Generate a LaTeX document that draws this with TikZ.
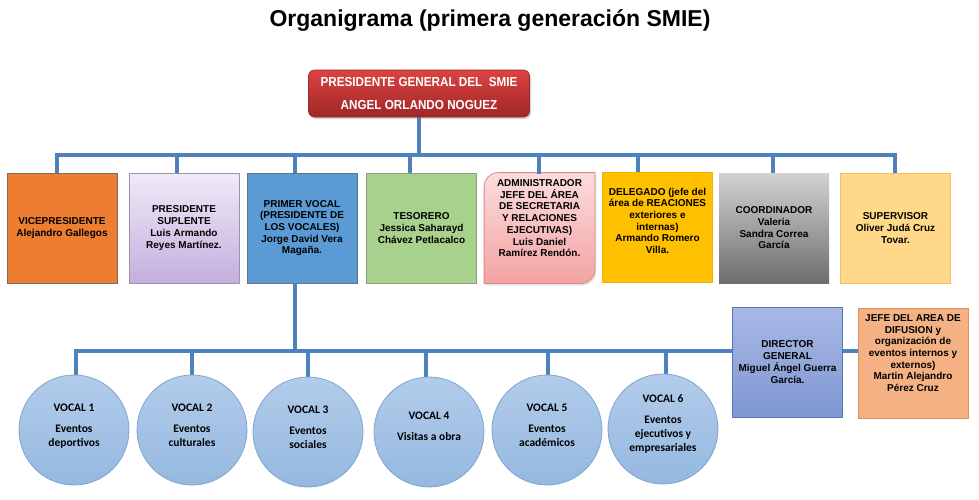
\documentclass[tikz,border=0pt]{standalone}
\usepackage{fontspec}
\setmainfont{Liberation Sans}
\newfontfamily\carlito{Carlito}
\newfontfamily\narrowsans[FakeStretch=0.9]{Liberation Sans}
\usetikzlibrary{shadows,backgrounds}
\definecolor{linec}{HTML}{4F81BD}
\definecolor{viceF}{HTML}{ED7D31}
\definecolor{viceD}{HTML}{7A6A60}
\definecolor{supT}{HTML}{F0EAF8}
\definecolor{supB}{HTML}{C4AEDE}
\definecolor{supD}{HTML}{9A94A8}
\definecolor{primF}{HTML}{5B9BD5}
\definecolor{primD}{HTML}{5F7488}
\definecolor{tesF}{HTML}{A9D18E}
\definecolor{tesD}{HTML}{8AA077}
\definecolor{admT}{HTML}{FCDCDC}
\definecolor{admB}{HTML}{F3A3A3}
\definecolor{admD}{HTML}{D98A8A}
\definecolor{delF}{HTML}{FFC000}
\definecolor{delD}{HTML}{F0B400}
\definecolor{corT}{HTML}{D2D2D2}
\definecolor{corB}{HTML}{6E6E6E}
\definecolor{supvF}{HTML}{FFD88A}
\definecolor{supvD}{HTML}{F2C060}
\definecolor{dirT}{HTML}{A7B8E4}
\definecolor{dirB}{HTML}{7F97D3}
\definecolor{dirD}{HTML}{5575BC}
\definecolor{jefF}{HTML}{F4B183}
\definecolor{jefD}{HTML}{E28D5C}
\definecolor{cirT}{HTML}{B2CCEA}
\definecolor{cirB}{HTML}{95B8E0}
\definecolor{cirD}{HTML}{7FA4D2}
\definecolor{presT}{HTML}{DA4442}
\definecolor{presB}{HTML}{A02627}
\tikzset{
  conn/.style={draw=linec, line width=3.5pt, line cap=rect},
  obox/.style={rectangle, line width=0.8pt, minimum width=110pt, minimum height=110pt,
    align=center, inner sep=2pt, font=\bfseries\fontsize{10}{11.7}\selectfont},
  vocal/.style={circle, draw=cirD, line width=0.8pt, top color=cirT, bottom color=cirB,
    minimum size=110pt, align=center, inner sep=0pt,
    font=\carlito\bfseries\fontsize{11.5}{14}\selectfont},
  presbox/.style={rectangle, rounded corners=6pt, draw=presB, line width=0.6pt,
    top color=presT, bottom color=presB, minimum width=221pt, minimum height=47pt,
    align=center, text=white, font=\narrowsans\bfseries\fontsize{13}{23}\selectfont,
    drop shadow={shadow xshift=1.5pt, shadow yshift=-2pt, opacity=0.35}},
  titlestyle/.style={font=\bfseries\fontsize{23}{26}\selectfont, inner sep=0pt}
}
\begin{document}
\begin{tikzpicture}[x=1pt,y=-1pt]
\useasboundingbox (0,0) rectangle (979,499);
\node[titlestyle] (title) at (490,20) {Organigrama (primera generación SMIE)};
\node[presbox] (pres) at (419,93.5) {PRESIDENTE GENERAL DEL\ \ SMIE\\ANGEL ORLANDO NOGUEZ};
% second row
\node[obox, draw=viceD, fill=viceF] (vice) at (62,228) {VICEPRESIDENTE\\Alejandro Gallegos};
\node[obox, draw=supD, top color=supT, bottom color=supB] (supl) at (184,228) {PRESIDENTE\\SUPLENTE\\Luis Armando\\Reyes Martínez.};
\node[obox, draw=primD, fill=primF] (prim) at (302,228) {PRIMER VOCAL\\(PRESIDENTE DE\\LOS VOCALES)\\Jorge David Vera\\Magaña.};
\node[obox, draw=tesD, fill=tesF] (tes) at (421.5,228) {TESORERO\\Jessica Saharayd\\Chávez Petlacalco};
\node[obox] (adm) at (539.5,228) {ADMINISTRADOR\\JEFE DEL ÁREA\\DE SECRETARIA\\Y RELACIONES\\EJECUTIVAS)\\Luis Daniel\\Ramírez Rendón.\\[8pt]\mbox{}};
\node[obox, draw=delD, fill=delF] (del) at (657.5,227.5) {DELEGADO (jefe del\\área de REACIONES\\exteriores e\\internas)\\Armando Romero\\Villa.\\[2pt]\mbox{}};
\node[obox, top color=corT, bottom color=corB] (coor) at (774,228) {COORDINADOR\\Valeria\\Sandra Correa\\García};
\node[obox, draw=supvD, fill=supvF] (supv) at (895.5,228) {SUPERVISOR\\Oliver Judá Cruz\\Tovar.};
% third row
\node[obox, draw=dirD, top color=dirT, bottom color=dirB] (dir) at (787.5,362) {DIRECTOR\\GENERAL\\Miguel Ángel Guerra\\García.};
\node[obox, draw=jefD, fill=jefF] (jefe) at (913,363) {JEFE DEL AREA DE\\DIFUSION y\\organización de\\eventos internos y\\externos)\\Martin Alejandro\\Pérez Cruz\\[8pt]\mbox{}};
\node[vocal] (v1) at (74,430) {VOCAL 1\\[7pt]Eventos\\deportivos\\[-4pt]\mbox{}};
\node[vocal] (v2) at (192,430) {VOCAL 2\\[7pt]Eventos\\culturales\\[-4pt]\mbox{}};
\node[vocal] (v3) at (308,432) {VOCAL 3\\[7pt]Eventos\\sociales\\[-4pt]\mbox{}};
\node[vocal] (v4) at (429,432) {VOCAL 4\\[7pt]Visitas a obra\\[-2pt]\mbox{}};
\node[vocal] (v5) at (547,430) {VOCAL 5\\[7pt]Eventos\\académicos\\[-4pt]\mbox{}};
\node[vocal] (v6) at (663,429) {VOCAL 6\\[7pt]Eventos\\ejecutivos y\\empresariales\\[-2pt]\mbox{}};
% drop coordinates
\coordinate (t1) at (57,155);
\coordinate (t2) at (177,155);
\coordinate (t3) at (295,155);
\coordinate (t4) at (410,155);
\coordinate (t5) at (539,155);
\coordinate (t6) at (638,155);
\coordinate (t7) at (773,155);
\coordinate (t8) at (895,155);
\coordinate (b0) at (295,351);
\coordinate (b1) at (76,351);
\coordinate (b2) at (192,351);
\coordinate (b3) at (308,351);
\coordinate (b4) at (426,351);
\coordinate (b5) at (548,351);
\coordinate (b6) at (666,351);
\begin{scope}[on background layer]
  \path[draw=admD, line width=0.8pt, top color=admT, bottom color=admB,
        drop shadow={shadow xshift=1.5pt, shadow yshift=-2pt, opacity=0.25}]
    (adm.north) [sharp corners] -- (adm.north east) -- (adm.east)
    [rounded corners=14pt] -- (adm.south east) -- (adm.south)
    [sharp corners] -- (adm.south west) -- (adm.west)
    [rounded corners=14pt] -- (adm.north west) -- cycle;
  \draw[conn] (pres.south) -- (pres.south |- t1);
  \draw[conn] (t1) -- (t8);
  \draw[conn] (t1) -- (t1 |- vice.north);
  \draw[conn] (t2) -- (t2 |- supl.north);
  \draw[conn] (t3) -- (t3 |- prim.north);
  \draw[conn] (t4) -- (t4 |- tes.north);
  \draw[conn] (t5) -- (t5 |- adm.north);
  \draw[conn] (t6) -- (t6 |- del.north);
  \draw[conn] (t7) -- (t7 |- coor.north);
  \draw[conn] (t8) -- (t8 |- supv.north);
  \draw[conn] (b0 |- prim.south) -- (b0);
  \draw[conn] (b1) -- (b1 -| dir.west);
  \draw[conn] (b1 -| dir.east) -- (b1 -| jefe.west);
  \draw[conn] (b1) -- (b1 |- v1.north);
  \draw[conn] (b2) -- (b2 |- v2.north);
  \draw[conn] (b3) -- (b3 |- v3.north);
  \draw[conn] (b4) -- (b4 |- v4.north);
  \draw[conn] (b5) -- (b5 |- v5.north);
  \draw[conn] (b6) -- (b6 |- v6.north);
\end{scope}
\end{tikzpicture}
\end{document}
